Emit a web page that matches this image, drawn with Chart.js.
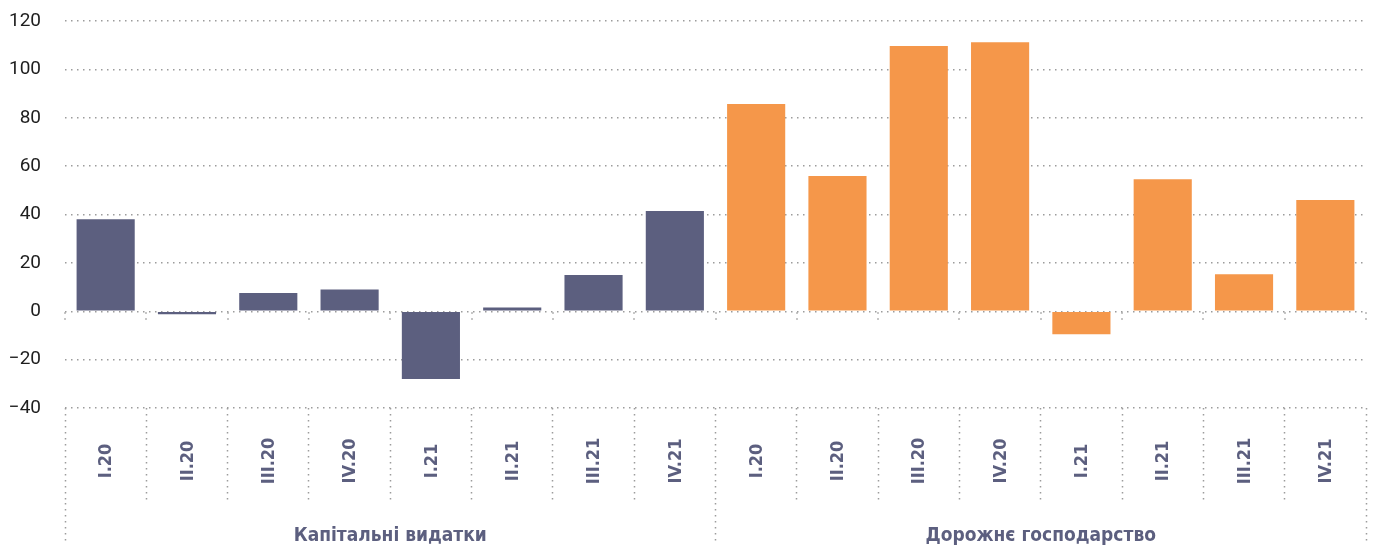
<!DOCTYPE html>
<html>
<head>
<meta charset="utf-8">
<script src="https://cdn.jsdelivr.net/npm/chart.js@4"></script>
<style>
  html, body { margin: 0; padding: 0; background: #ffffff; }
  #wrap { width: 1376px; height: 547px; position: relative; }
</style>
</head>
<body>
<div id="wrap"><canvas id="c"></canvas></div>
<script>
const quarters = ['I.20', 'II.20', 'III.20', 'IV.20', 'I.21', 'II.21', 'III.21', 'IV.21'];
const groupNames = ['Капітальні видатки', 'Дорожнє господарство'];
const capitalValues = [38, -1.2, 7.5, 9, -28, 1.6, 15, 41.4];
const roadValues = [85.7, 55.9, 109.7, 111.2, -9.5, 54.6, 15.3, 46];
const yTicks = [-40, -20, 0, 20, 40, 60, 80, 100, 120];

const navy = '#5c5f7f';
const orange = '#f5974a';
const gridColor = '#9c9c9c';
const dash = [1.5, 4.5];

const categories = quarters.concat(quarters);
const nulls = quarters.map(() => null);
const capitalData = capitalValues.concat(nulls);
const roadData = nulls.concat(roadValues);

const labelFont = "'Liberation Sans Narrow', 'DejaVu Sans Condensed', 'Roboto', sans-serif";

const extraPlugin = {
  id: 'extra',
  afterDraw(chart) {
    const ctx = chart.ctx;
    const xs = chart.scales.x;
    const ys = chart.scales.y;
    const n = categories.length;
    const half = (xs.getPixelForValue(1) - xs.getPixelForValue(0)) / 2;
    const y0 = ys.getPixelForValue(0);
    ctx.save();
    ctx.strokeStyle = gridColor;
    ctx.lineWidth = 1.5;
    ctx.setLineDash(dash);
    for (let i = 0; i <= n; i++) {
      const x = Math.round(xs.getPixelForValue(0) - half + i * half * 2);
      ctx.beginPath();
      ctx.moveTo(x, y0 + 1);
      ctx.lineTo(x, y0 + 12);
      ctx.stroke();
    }
    ctx.restore();
    ctx.save();
    ctx.fillStyle = navy;
    ctx.font = 'bold 18px ' + labelFont;
    ctx.textAlign = 'center';
    ctx.textBaseline = 'middle';
    const cy = xs.top + 53;
    for (let i = 0; i < n; i++) {
      const x = xs.getPixelForValue(i);
      ctx.save();
      ctx.translate(x + 1, cy);
      ctx.rotate(-Math.PI / 2);
      ctx.fillText(categories[i], 0, 0);
      ctx.restore();
    }
    ctx.restore();
  }
};

new Chart(document.getElementById('c'), {
  type: 'bar',
  data: {
    labels: categories,
    datasets: [
      { label: groupNames[0], data: capitalData, backgroundColor: navy, xAxisID: 'x', grouped: false },
      { label: groupNames[1], data: roadData, backgroundColor: orange, xAxisID: 'x', grouped: false }
    ]
  },
  options: {
    responsive: true,
    maintainAspectRatio: false,
    animation: false,
    datasets: { bar: { categoryPercentage: 1, barPercentage: 0.715 } },
    layout: { padding: { top: 21, right: 10, left: 0, bottom: 0 } },
    plugins: { legend: { display: false }, tooltip: { enabled: false } },
    scales: {
      y: {
        min: -40, max: 120,
        afterBuildTicks(scale) { scale.ticks = yTicks.map(v => ({ value: v })); },
        afterFit(scale) { scale.width = 65; scale.paddingTop = 0; scale.paddingBottom = 0; },
        border: { display: false, dash: dash },
        grid: { color: gridColor, lineWidth: 1.5, drawTicks: false },
        ticks: {
          padding: 24,
          color: '#1e1e1e',
          font: { family: 'Roboto', size: 19 },
          callback: v => (v < 0 ? '\u2212' + Math.abs(v) : String(v))
        }
      },
      x: {
        type: 'category',
        position: 'bottom',
        weight: 0,
        offset: true,
        afterFit(scale) { scale.height = 95; },
        border: { display: false },
        grid: {
          offset: true,
          drawOnChartArea: false,
          drawTicks: true,
          tickLength: 95,
          tickColor: gridColor,
          tickWidth: 1.5,
          tickBorderDash: dash
        },
        ticks: { display: false }
      },
      group: {
        type: 'category',
        position: 'bottom',
        weight: 1,
        labels: groupNames,
        offset: true,
        afterFit(scale) { scale.height = 44; },
        border: { display: false },
        grid: {
          offset: true,
          drawOnChartArea: false,
          drawTicks: true,
          tickLength: 42,
          tickColor: gridColor,
          tickWidth: 1.5,
          tickBorderDash: dash
        },
        ticks: {
          padding: -20,
          maxRotation: 0,
          autoSkip: false,
          color: navy,
          font: { family: labelFont, size: 19, weight: 'bold' }
        }
      }
    }
  },
  plugins: [extraPlugin]
});
</script>
</body>
</html>
